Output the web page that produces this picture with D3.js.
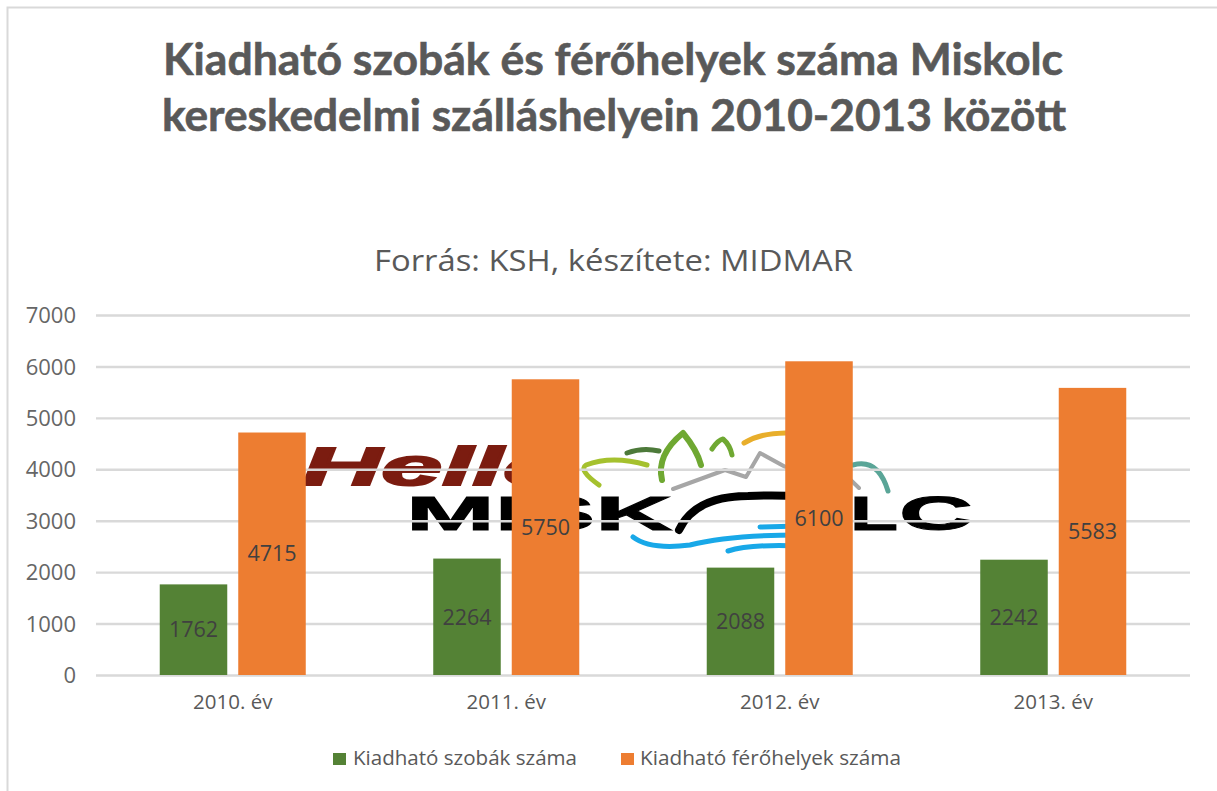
<!DOCTYPE html>
<html><head><meta charset="utf-8">
<script src="https://cdnjs.cloudflare.com/ajax/libs/d3/7.8.5/d3.min.js"></script>
<style>html,body{margin:0;padding:0;background:#fff}svg{display:block}</style></head>
<body><svg id="c" width="1217" height="791"></svg>
<script>
const categories = ["2010. év","2011. év","2012. év","2013. év"];
const seriesNames = ["Kiadható szobák száma","Kiadható férőhelyek száma"];
const rooms = [1762,2264,2088,2242];
const beds = [4715,5750,6100,5583];
const yTicks = [0,1000,2000,3000,4000,5000,6000,7000];
const colors = ["#548235","#ed7d31"];
const titleLines = ["Kiadható szobák és férőhelyek száma Miskolc","kereskedelmi szálláshelyein 2010-2013 között"];
const subtitle = "Forrás: KSH, készítete: MIDMAR";

const svg = d3.select("#c");
const x = d3.scaleBand().domain(categories).range([96,1190]);
const y = d3.scaleLinear().domain([0,7000]).range([675,315]);
const sub = d3.scaleBand().domain([0,1]).range([0,x.bandwidth()]).paddingInner(0.14).paddingOuter(0.812);
const GRID="#d9d9d9", TXT="#595959", LAB="#404040";

// frame
svg.append("path").attr("d","M7.5 791V7.5H1217").attr("fill","none").attr("stroke",GRID).attr("stroke-width",2);

// titles
svg.selectAll(".t").data(titleLines).join("text").attr("class","t")
  .attr("x",(d,i)=>[163,162][i]).attr("y",(d,i)=>[75,131][i])
  .attr("textLength",(d,i)=>[900,904][i]).attr("lengthAdjust","spacingAndGlyphs")
  .attr("font-family","Lato").attr("font-weight",700).attr("font-size",44).attr("fill",TXT)
  .attr("stroke",TXT).attr("stroke-width",0.6).text(d=>d);
svg.append("text").attr("x",374).attr("y",271).attr("textLength",479).attr("lengthAdjust","spacingAndGlyphs")
  .attr("font-family","Open Sans").attr("font-size",30).attr("fill",TXT).text(subtitle);

// background logo
const logo = svg.append("g").attr("class","logo");
logo.append("text").attr("x",302).attr("y",485).attr("textLength",268).attr("lengthAdjust","spacingAndGlyphs")
  .attr("font-family","Liberation Sans").attr("font-weight",700).attr("font-style","italic")
  .attr("font-size",53).attr("fill","#7b1c10").attr("stroke","#7b1c10").attr("stroke-width",2).text("Hello");
const letter=(t,x0,w)=>logo.append("text").attr("x",x0).attr("y",530).attr("textLength",w).attr("lengthAdjust","spacingAndGlyphs")
  .attr("font-family","Liberation Sans").attr("font-weight",700).attr("font-size",49).attr("fill","#000").attr("stroke","#000").attr("stroke-width",1).text(t);
letter("MISK",406,266); letter("L",850,48); letter("C",899,74);
const swoosh=(d,c,w)=>logo.append("path").attr("d",d).attr("fill","none").attr("stroke",c).attr("stroke-width",w).attr("stroke-linecap","round").attr("stroke-linejoin","round");
swoosh("M599 485Q578 470 586 465Q612 455 647 465","#a5c12e",5);
swoosh("M627 453Q643 447 659 451","#4d7a3a",5);
swoosh("M662 480Q656 455 683 433Q697 450 701 465","#6fa832",6);
swoosh("M712 449Q718 440 723 439Q730 445 732 455","#6fa832",5);
swoosh("M744 443Q762 432 790 433","#e8ae2b",5);
swoosh("M673 489L725 470L746 477L760 453L800 475L830 460L859 488","#a6a6a6",4);
swoosh("M853 465Q878 458 888 491","#5aa597",5);
swoosh("M679 530Q695 496 748 496Q800 494 815 500","#000",8);
swoosh("M633 537Q650 550 690 545Q730 535 800 535","#18a8e8",5);
swoosh("M760 527L800 526","#18a8e8",5);
swoosh("M728 551Q750 544 800 546","#18a8e8",5);

// gridlines and y axis via d3 axis
const yAxis = svg.append("g").attr("transform","translate(96,0)")
  .call(d3.axisLeft(y).tickValues(yTicks).tickSize(-1094).tickPadding(20).tickFormat(d3.format("d")));
yAxis.select(".domain").remove();
yAxis.selectAll("line").attr("stroke",GRID).attr("stroke-width",2.4);
yAxis.selectAll("text").attr("font-family","Open Sans").attr("font-size",22).attr("fill","#666").attr("dy","0.35em");

// x axis labels
const xAxis = svg.append("g").attr("transform","translate(0,675)")
  .call(d3.axisBottom(x).tickSize(0).tickPadding(19));
xAxis.select(".domain").remove();
xAxis.selectAll("text").attr("font-family","Open Sans").attr("font-size",20.5).attr("fill",TXT).attr("dy","0.71em");

// bars and labels
[rooms,beds].forEach((vals,s)=>{
  const g=svg.append("g");
  g.selectAll("rect").data(vals).join("rect")
    .attr("x",(d,i)=>x(categories[i])+sub(s)).attr("width",sub.bandwidth())
    .attr("y",d=>y(d)).attr("height",d=>y(0)-y(d)).attr("fill",colors[s]);
  g.selectAll("text").data(vals).join("text")
    .attr("x",(d,i)=>x(categories[i])+sub(s)+sub.bandwidth()/2)
    .attr("y",d=>(y(d)+y(0))/2).attr("dy","0.36em").attr("text-anchor","middle")
    .attr("font-family","Open Sans").attr("font-size",21.5).attr("fill",LAB).text(d=>d);
});

// legend
const lx=[333,621], tx=[353,640], tw=[224,261];
seriesNames.forEach((n,i)=>{
  svg.append("rect").attr("x",lx[i]).attr("y",753).attr("width",13).attr("height",12).attr("fill",colors[i]);
  svg.append("text").attr("x",tx[i]).attr("y",765).attr("textLength",tw[i]).attr("lengthAdjust","spacingAndGlyphs")
    .attr("font-family","Open Sans").attr("font-size",20).attr("fill",TXT).text(n);
});
</script></body></html>
